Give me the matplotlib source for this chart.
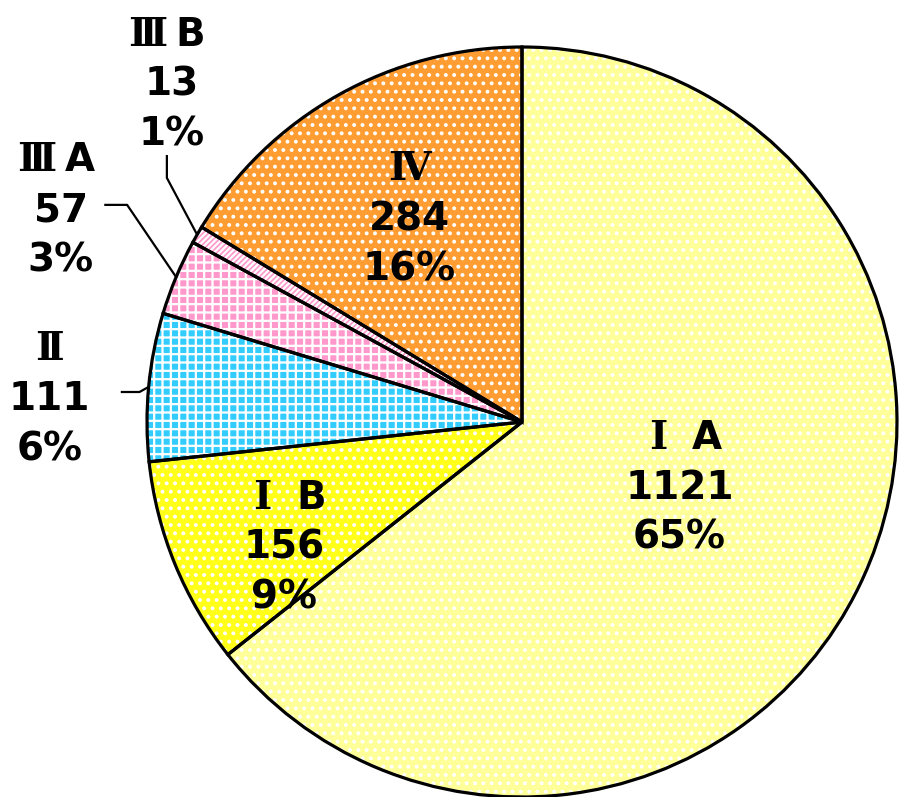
import numpy as np
import matplotlib
matplotlib.use('Agg')
import matplotlib.pyplot as plt

plt.rcParams['font.family'] = ['DejaVu Sans']
plt.rcParams['hatch.linewidth'] = 1.6

numerals = ['Ⅰ', 'Ⅰ', 'Ⅱ', 'Ⅲ', 'Ⅲ', 'Ⅳ']
suffixes = ['A', 'B', '', 'A', 'B', '']
counts = [1121, 156, 111, 57, 13, 284]
pct_labels = ['65%', '9%', '6%', '3%', '1%', '16%']
colors = ['#FFFF99', '#FFFF1A', '#33CCFF', '#FF99CC', '#FF99CC', '#FF9D33']
hatches = ['..', '..', '++', '++', '//////', '..']

fig = plt.figure(figsize=(9.04, 7.97), dpi=100)
ax = fig.add_axes([0, 0, 1, 1])
ax.axis('off')

# filled wedges with white patterns
wedges, _ = ax.pie(counts, colors=colors, startangle=90, counterclock=False,
                   radius=1.0, wedgeprops=dict(linewidth=0))
for w, h in zip(wedges, hatches):
    w.set_hatch(h)
    w.set_edgecolor('white')
    w.set_linewidth(0)

# black outlines on top
ax.pie(counts, startangle=90, counterclock=False, radius=1.0,
       wedgeprops=dict(fill=False, edgecolor='black', linewidth=2.3))

ax.set_xlim(-522 / 375, (904 - 522) / 375)
ax.set_ylim(-(797 - 422) / 375, 422 / 375)
ax.set_aspect('auto')

label_pos = [(0.42, -0.175), (-0.635, -0.335), (-1.26, 0.06),
             (-1.23, 0.565), (-0.935, 0.90), (-0.30, 0.54)]
fs = 28
step = 36  # points between lines
for num, suf, c, p, (x, y) in zip(numerals, suffixes, counts, pct_labels, label_pos):
    kw = dict(textcoords='offset points', va='center', fontsize=fs, fontweight='bold')
    if suf:
        gap = 9 if num == 'Ⅰ' else 3
        ax.annotate(num, (x, y), xytext=(-gap, step), ha='right',
                    family=['DejaVu Serif'], **kw)
        ax.annotate(suf, (x, y), xytext=(gap, step), ha='left', **kw)
    else:
        ax.annotate(num, (x, y), xytext=(0, step), ha='center',
                    family=['DejaVu Serif'], **kw)
    ax.annotate(str(c), (x, y), xytext=(0, 0), ha='center', **kw)
    ax.annotate(p, (x, y), xytext=(0, -step), ha='center', **kw)

# leader lines for the small outside slices
def edge_point(w):
    ang = np.deg2rad((w.theta1 + w.theta2) / 2)
    return np.cos(ang), np.sin(ang)

leaders = {2: [(-1.07, 0.08), (-1.02, 0.08)],
           3: [(-1.114, 0.579), (-1.053, 0.579)],
           4: [(-0.947, 0.712), (-0.947, 0.651)]}
for i, pts in leaders.items():
    ex, ey = edge_point(wedges[i])
    xs = [p[0] for p in pts] + [ex]
    ys = [p[1] for p in pts] + [ey]
    ax.plot(xs, ys, color='black', linewidth=1.6, solid_capstyle='butt')

fig.savefig('out.png', dpi=100)
